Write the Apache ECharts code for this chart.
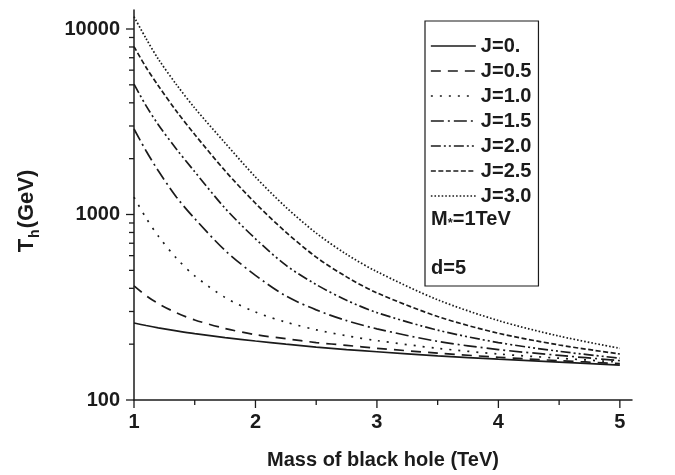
<!DOCTYPE html>
<html><head><meta charset="utf-8">
<script src="https://cdn.jsdelivr.net/npm/echarts@6/dist/echarts.min.js"></script>
<style>html,body{margin:0;padding:0;background:#fff}#c{width:675px;height:475px}</style>
</head><body><div id="c"></div>
<script>
// ---- data ----
const masses = [1, 1.1, 1.2, 1.35, 1.5, 1.75, 2, 2.25, 2.5, 2.75, 3, 3.5, 4, 4.5, 5];
const tJ00 = [260, 252, 245, 236, 228, 217, 208, 200, 193, 187, 182, 173, 166, 160, 154];
const tJ05 = [412, 365, 331, 295, 270, 243, 225, 214, 204, 197, 190, 179, 170, 163, 157];
const tJ10 = [1240, 956, 765, 581, 467, 357, 298, 263, 239, 222, 209, 190, 177, 168, 160];
const tJ15 = [2890, 2200, 1720, 1240, 950, 640, 470, 364, 306, 268, 242, 207, 187, 174, 163];
const tJ20 = [5050, 3850, 3050, 2250, 1700, 1080, 740, 533, 419, 345, 296, 238, 204, 183, 168];
const tJ25 = [8040, 6200, 4950, 3600, 2700, 1720, 1150, 804, 589, 461, 378, 282, 229, 198, 177];
const tJ30 = [11650, 8870, 6890, 5010, 3750, 2430, 1592, 1096, 794, 610, 492, 347, 268, 221, 190];
const seriesNames = ['J=0.', 'J=0.5', 'J=1.0', 'J=1.5', 'J=2.0', 'J=2.5', 'J=3.0'];
const xMajorTicks = [1, 2, 3, 4, 5];
const xMinorTicks = [1.5, 2.5, 3.5, 4.5];
const yMajorTicks = [100, 1000, 10000];
const yMinorTicks = [200, 300, 400, 500, 600, 700, 800, 900, 2000, 3000, 4000, 5000, 6000, 7000, 8000, 9000];
const noteLines = ['M', '*', '=1TeV', 'd=5'];

// ---- styles ----
const INK = '#1b1b1b';
const FONT = '"Liberation Sans", Arial, sans-serif';
const X_MIN = 1, X_MAX = 5.1, Y_MIN = 100, Y_MAX = 12660;
const dashes = ['solid', [10, 7], [2, 7], [13, 4, 2, 4], [10, 3, 2, 3, 2, 3], [5, 2.5], [1.6, 2]];
const allSeries = [tJ00, tJ05, tJ10, tJ15, tJ20, tJ25, tJ30];

const lineSeries = allSeries.map((vals, i) => ({
  name: seriesNames[i],
  type: 'line',
  data: masses.map((m, k) => [m, vals[k]]),
  symbol: 'none',
  showSymbol: false,
  smooth: 0.3,
  lineStyle: { color: INK, width: 1.7, type: dashes[i] },
  itemStyle: { color: INK },
  emphasis: { disabled: true },
  silent: true,
  z: 3
}));

const tickData = []
  .concat(yMajorTicks.map(v => [X_MIN, v, 0, 8]))
  .concat(yMinorTicks.map(v => [X_MIN, v, 0, 5]))
  .concat(xMajorTicks.map(v => [v, Y_MIN, 1, 8]))
  .concat(xMinorTicks.map(v => [v, Y_MIN, 1, 5]));

const tickSeries = {
  type: 'custom',
  name: 'ticks',
  data: tickData,
  clip: false,
  silent: true,
  z: 4,
  renderItem(params, api) {
    const p = api.coord([api.value(0), api.value(1)]);
    const dir = api.value(2), len = api.value(3);
    const shape = dir === 0
      ? { x1: p[0] - len, y1: p[1], x2: p[0], y2: p[1] }
      : { x1: p[0], y1: p[1], x2: p[0], y2: p[1] + len };
    return { type: 'line', shape, style: { stroke: INK, lineWidth: 1.3 } };
  }
};

const chart = echarts.init(document.getElementById('c'), null, { renderer: 'canvas' });
chart.setOption({
  animation: false,
  backgroundColor: '#fff',
  grid: { left: 134, right: 43, top: 10, bottom: 75, containLabel: false },
  xAxis: {
    type: 'value', min: X_MIN, max: X_MAX, interval: 1,
    axisLine: { show: true, onZero: false, lineStyle: { color: INK, width: 1.5 } },
    axisTick: { show: false },
    splitLine: { show: false },
    axisLabel: { show: true, margin: 12, showMaxLabel: false, color: INK,
      fontFamily: FONT, fontWeight: 'bold', fontSize: 20 },
    name: 'Mass of black hole (TeV)', nameLocation: 'middle', nameGap: 50,
    nameTextStyle: { color: INK, fontFamily: FONT, fontWeight: 'bold', fontSize: 20 }
  },
  yAxis: {
    type: 'log', logBase: 10, min: Y_MIN, max: Y_MAX,
    axisLine: { show: true, onZero: false, lineStyle: { color: INK, width: 1.5 } },
    axisTick: { show: false },
    splitLine: { show: false },
    minorTick: { show: false },
    axisLabel: { show: true, margin: 14, showMaxLabel: false, color: INK,
      fontFamily: FONT, fontWeight: 'bold', fontSize: 20,
      formatter: v => String(Math.round(v)) },
    name: '{a|T}{b|h}{c|(GeV)}', nameLocation: 'middle', nameGap: 92, nameRotate: 90,
    nameTextStyle: {
      color: INK,
      rich: {
        a: { fontFamily: FONT, fontWeight: 'bold', fontSize: 22, color: INK, lineHeight: 30, verticalAlign: 'middle' },
        b: { fontFamily: FONT, fontWeight: 'bold', fontSize: 14, color: INK, lineHeight: 30, verticalAlign: 'bottom', padding: [0, 1, 0, 1] },
        c: { fontFamily: FONT, fontWeight: 'bold', fontSize: 22, color: INK, lineHeight: 30, verticalAlign: 'middle', padding: [0, 12, 0, 0] }
      }
    }
  },
  legend: {
    data: seriesNames,
    orient: 'vertical',
    left: 425, top: 21,
    padding: [15, 7, 80, 5],
    itemWidth: 45, itemHeight: 14, itemGap: 5,
    borderColor: INK, borderWidth: 1.2,
    selectedMode: false,
    itemStyle: { opacity: 0, borderWidth: 0 },
    lineStyle: { width: 1.7 },
    textStyle: { color: INK, fontFamily: FONT, fontWeight: 'bold', fontSize: 20, lineHeight: 20 }
  },
  graphic: [
    { type: 'text', left: 431, top: 209, z: 10,
      style: { text: '{a|' + noteLines[0] + '}{s|' + noteLines[1] + '}{a|' + noteLines[2] + '}',
        rich: {
          a: { fontFamily: FONT, fontWeight: 'bold', fontSize: 20, fill: INK, lineHeight: 22 },
          s: { fontFamily: FONT, fontWeight: 'bold', fontSize: 13, fill: INK, lineHeight: 22, verticalAlign: 'bottom', padding: [6, 0, 0, 0] }
        } } },
    { type: 'text', left: 431, top: 258, z: 10,
      style: { text: noteLines[3], fontFamily: FONT, fontWeight: 'bold', fontSize: 20, fill: INK } }
  ],
  series: lineSeries.concat([tickSeries])
});
</script>
</body></html>
